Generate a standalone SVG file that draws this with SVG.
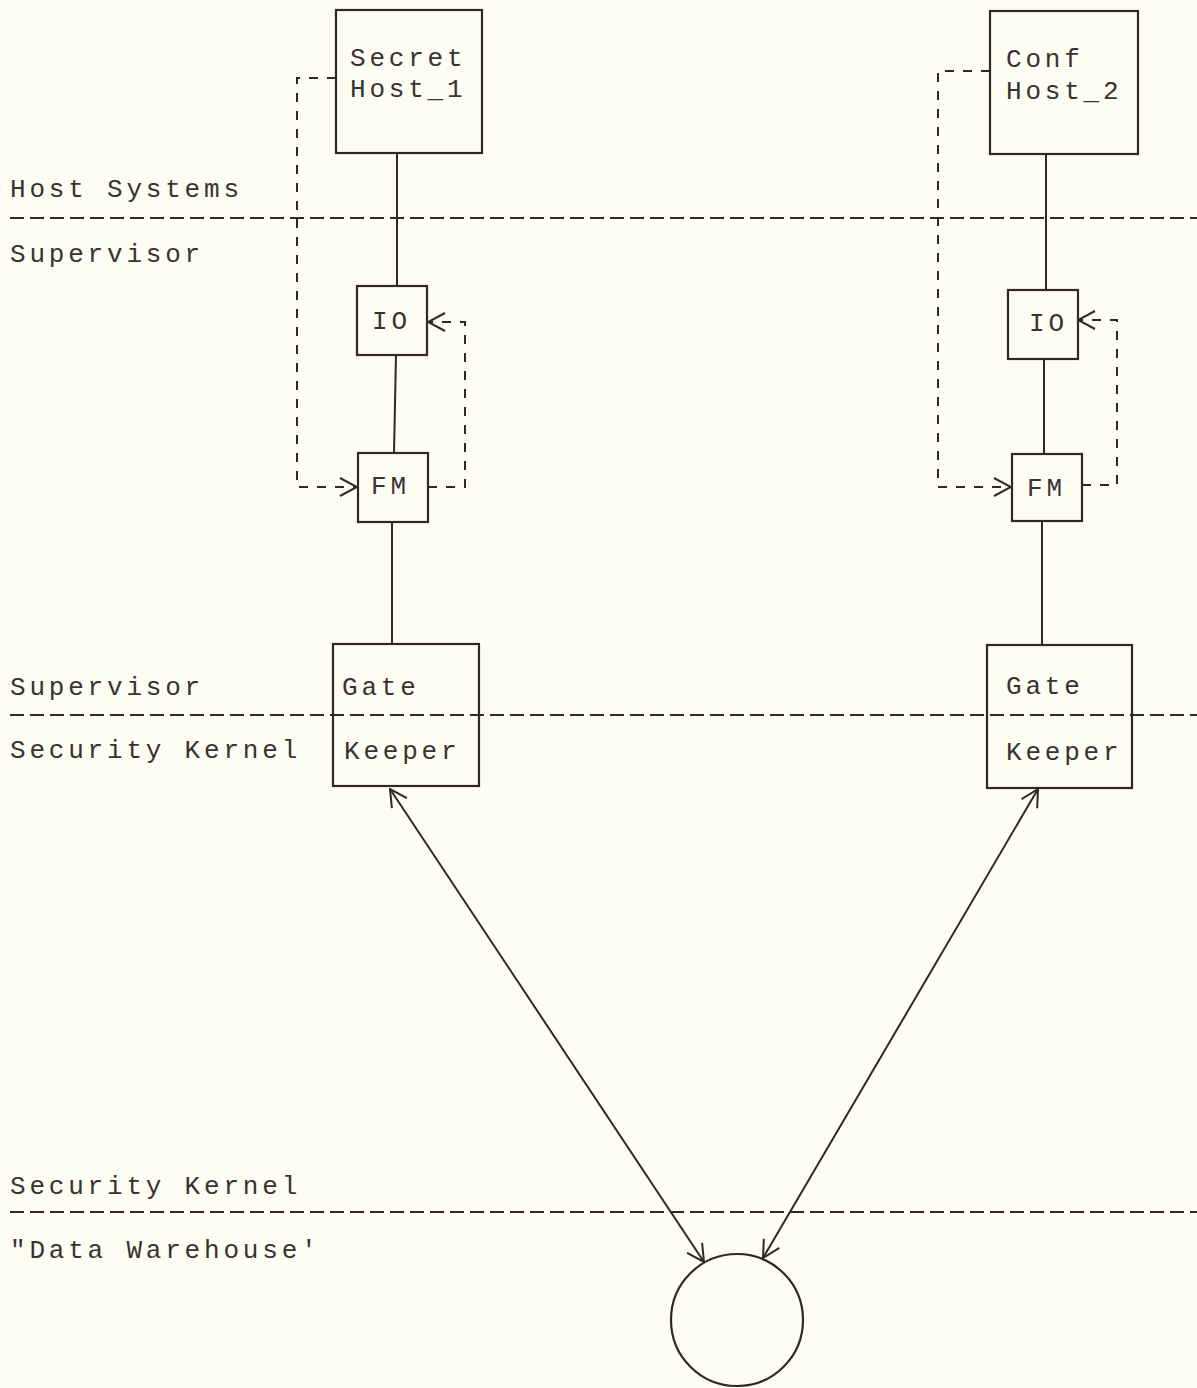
<svg xmlns="http://www.w3.org/2000/svg" width="1197" height="1388" viewBox="0 0 1197 1388">
  <style>
    .bg { fill: #fdfdf3; }
    .box { fill: none; stroke: #2f2826; stroke-width: 2.2; }
    .link { fill: none; stroke: #2f2826; stroke-width: 2; }
    .layer { fill: none; stroke: #2f2826; stroke-width: 2.2; stroke-dasharray: 14 6; }
    .loop { fill: none; stroke: #2f2826; stroke-width: 2; stroke-dasharray: 9 9; }
    .txt { font-family: "Liberation Mono", "DejaVu Sans Mono", monospace; font-size: 26px; letter-spacing: 3.8px; fill: #3a3230; }
  </style>
  <defs>
    <marker id="chev" viewBox="0 0 20 20" refX="19" refY="10" markerWidth="20" markerHeight="20" markerUnits="userSpaceOnUse" orient="auto-start-reverse">
      <path d="M2,1 L19,10 L2,19" fill="none" stroke="#2f2826" stroke-width="2" stroke-dasharray="none"/>
    </marker>
  </defs>

  <rect class="bg" x="0" y="0" width="1197" height="1388"/>

  <!-- layer boundaries and their captions -->
  <g id="layers">
    <line class="layer" x1="10" y1="218" x2="1197" y2="218"/>
    <line class="layer" x1="10" y1="715" x2="1197" y2="715"/>
    <line class="layer" x1="10" y1="1212" x2="1197" y2="1212"/>
    <text class="txt" x="10" y="197">Host Systems</text>
    <text class="txt" x="10" y="262">Supervisor</text>
    <text class="txt" x="10" y="695">Supervisor</text>
    <text class="txt" x="10" y="758">Security Kernel</text>
    <text class="txt" x="10" y="1194">Security Kernel</text>
    <text class="txt" x="10" y="1258">"Data Warehouse'</text>
  </g>

  <!-- connectors -->
  <g id="connectors">
    <line class="link" x1="397" y1="153" x2="397" y2="286"/>
    <line class="link" x1="396" y1="355" x2="394" y2="453"/>
    <line class="link" x1="392" y1="522" x2="392" y2="644"/>
    <line class="link" x1="1046" y1="154" x2="1046" y2="290"/>
    <line class="link" x1="1044" y1="359" x2="1044" y2="454"/>
    <line class="link" x1="1042" y1="521" x2="1042" y2="645"/>

    <path class="loop" d="M336,78 L297,78 L297,487 L357,487" marker-end="url(#chev)"/>
    <path class="loop" d="M428,487 L465,487 L465,322 L428,322" marker-end="url(#chev)"/>
    <path class="loop" d="M990,71 L938,71 L938,487 L1011,487" marker-end="url(#chev)"/>
    <path class="loop" d="M1082,485 L1117,485 L1117,320 L1078,320" marker-end="url(#chev)"/>

    <line class="link" x1="390" y1="789" x2="704" y2="1262" marker-start="url(#chev)" marker-end="url(#chev)"/>
    <line class="link" x1="1038" y1="789" x2="763" y2="1258" marker-start="url(#chev)" marker-end="url(#chev)"/>
  </g>

  <g id="secret-host-1">
    <rect class="box" x="336" y="10" width="146" height="143"/>
    <text class="txt" x="350" y="66">Secret</text>
    <text class="txt" x="350" y="97">Host_1</text>
  </g>
  <g id="io-1">
    <rect class="box" x="357" y="286" width="70" height="69"/>
    <text class="txt" x="372" y="329">IO</text>
  </g>
  <g id="fm-1">
    <rect class="box" x="358" y="453" width="70" height="69"/>
    <text class="txt" x="371" y="494">FM</text>
  </g>
  <g id="gatekeeper-1">
    <rect class="box" x="333" y="644" width="146" height="142"/>
    <text class="txt" x="342" y="695">Gate</text>
    <text class="txt" x="344" y="759">Keeper</text>
  </g>

  <g id="conf-host-2">
    <rect class="box" x="990" y="11" width="148" height="143"/>
    <text class="txt" x="1006" y="67">Conf</text>
    <text class="txt" x="1006" y="99">Host_2</text>
  </g>
  <g id="io-2">
    <rect class="box" x="1008" y="290" width="70" height="69"/>
    <text class="txt" x="1029" y="331">IO</text>
  </g>
  <g id="fm-2">
    <rect class="box" x="1012" y="454" width="70" height="67"/>
    <text class="txt" x="1027" y="496">FM</text>
  </g>
  <g id="gatekeeper-2">
    <rect class="box" x="987" y="645" width="145" height="143"/>
    <text class="txt" x="1006" y="694">Gate</text>
    <text class="txt" x="1006" y="760">Keeper</text>
  </g>

  <g id="data-warehouse">
    <circle class="box" cx="737" cy="1320" r="66"/>
  </g>
</svg>
